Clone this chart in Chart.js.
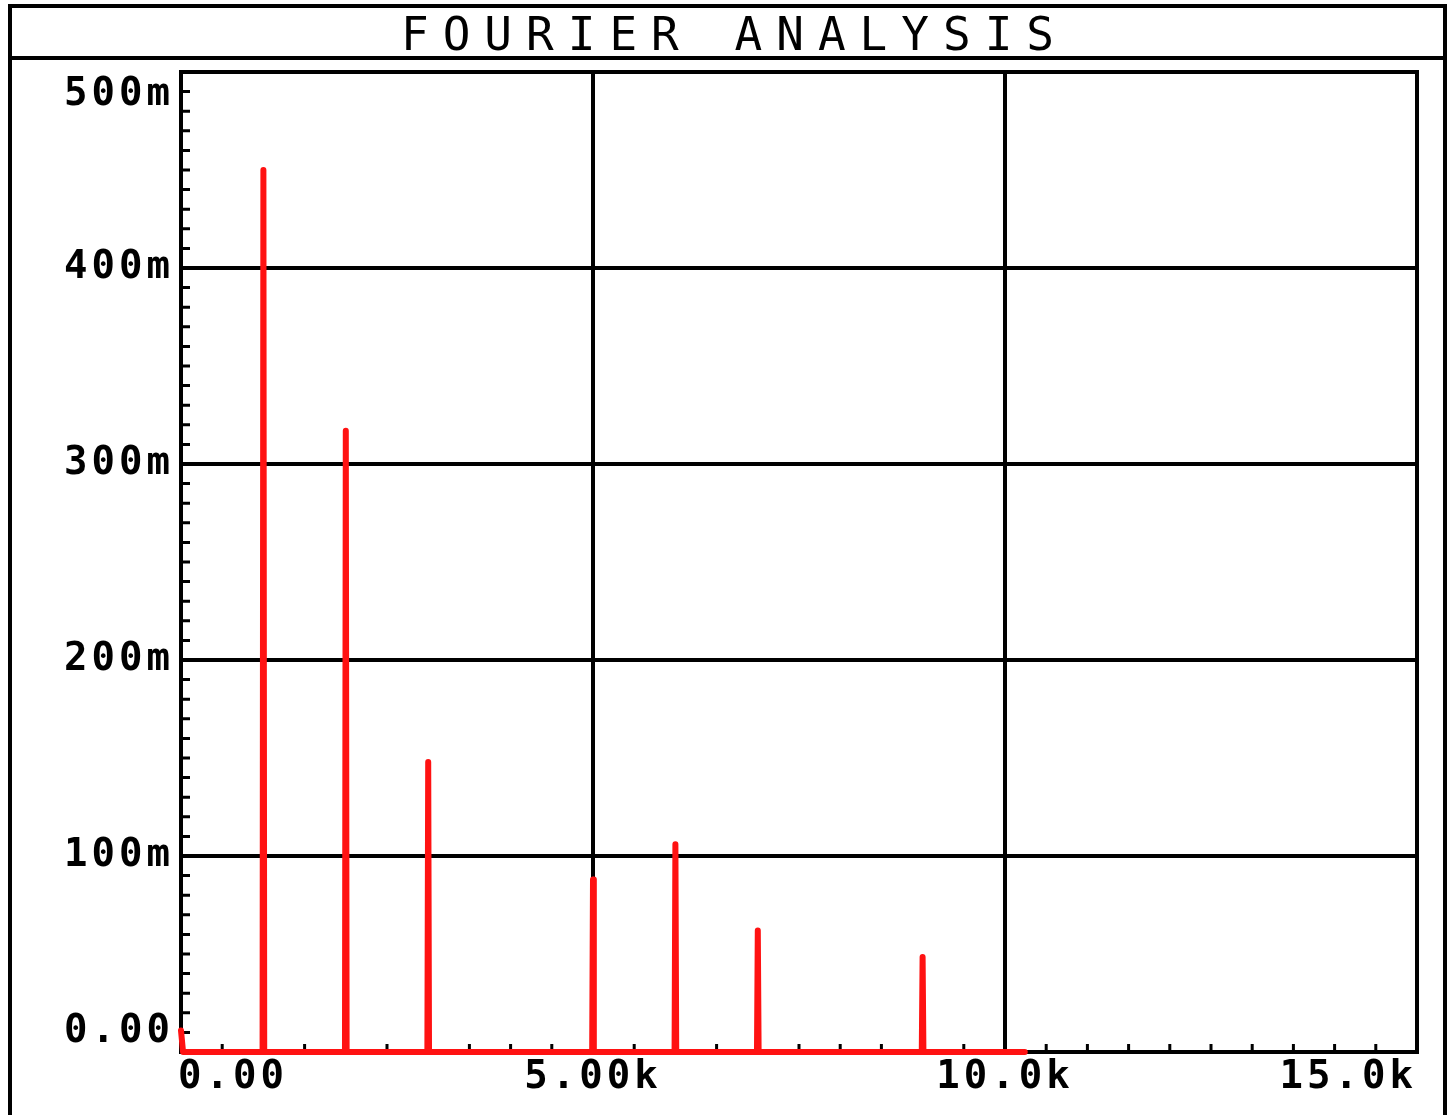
<!DOCTYPE html>
<html>
<head>
<meta charset="utf-8">
<script src="https://cdn.jsdelivr.net/npm/chart.js@4/dist/chart.umd.min.js"></script>
<style>
  html, body { margin: 0; padding: 0; background: #fff; overflow: hidden; }
  #frame {
    position: absolute; left: 8px; top: 4px; width: 1431px; height: 1200px;
    border-left: 4px solid #000; border-right: 4px solid #000; border-top: 4px solid #000;
  }
  #title {
    height: 48px; border-bottom: 4px solid #000;
    font-family: "DejaVu Sans Mono", monospace; font-size: 46px; line-height: 52px;
    letter-spacing: 14px; padding-left: 14px; text-align: center; color: #000;
  }
  #plot { position: absolute; left: 0; top: 0; }
</style>
</head>
<body>
<canvas id="plot" width="1453" height="1115"></canvas>
<div id="frame"><div id="title">FOURIER ANALYSIS</div></div>
<script>
// spectrum (Hz, volts)
const freqHz = [0, 25, 990, 1000, 1010, 1990, 2000, 2010, 2990, 3000, 3010,
                4990, 5000, 5010, 5990, 6000, 6010, 6990, 7000, 7010,
                8990, 9000, 9010, 10240];
const magnitude = [0.011, 0, 0, 0.45, 0, 0, 0.317, 0, 0, 0.148, 0,
                   0, 0.088, 0, 0, 0.106, 0, 0, 0.062, 0,
                   0, 0.0485, 0, 0];

const xTickValues = [0, 5000, 10000, 15000];
const xTickLabels = ['0.00', '5.00k', '10.0k', '15.0k'];
const yTickValues = [0, 0.1, 0.2, 0.3, 0.4, 0.5];
const yTickLabels = ['0.00', '100m', '200m', '300m', '400m', '500m'];

function isMajor(v, step, min, max) {
    const r = v / step;
    return Math.abs(r - Math.round(r)) < 1e-6 && v > min + 1e-9 && v < max - 1e-9;
}

// frame, inner tick marks and the tick labels
const axisDeco = {
    id: 'axisDeco',
    beforeDatasetsDraw(chart) {
        const c = chart.ctx;
        const a = chart.chartArea;
        const xs = chart.scales.x, ys = chart.scales.y;
        c.save();
        c.strokeStyle = '#000';
        c.lineWidth = 4;
        c.strokeRect(a.left, a.top, a.right - a.left, a.bottom - a.top);

        c.lineWidth = 3;
        c.beginPath();
        ys.ticks.forEach(t => {
            const y = ys.getPixelForValue(t.value);
            c.moveTo(a.left, y);
            c.lineTo(a.left + 9, y);
        });
        xs.ticks.forEach(t => {
            const x = xs.getPixelForValue(t.value);
            c.moveTo(x, a.bottom);
            c.lineTo(x, a.bottom - 8);
        });
        c.stroke();

        c.fillStyle = '#000';
        c.font = 'bold 39px "DejaVu Sans Mono"';
        c.letterSpacing = '4px';
        c.textBaseline = 'middle';
        c.textAlign = 'right';
        yTickValues.forEach((v, i) => {
            let y = ys.getPixelForValue(v);
            if (i === 0) y -= 20;
            if (i === yTickValues.length - 1) y += 23;
            c.fillText(yTickLabels[i], a.left - 7, y);
        });
        xTickValues.forEach((v, i) => {
            const x = xs.getPixelForValue(v);
            const y = a.bottom + 26;
            if (i === 0) { c.textAlign = 'left'; c.fillText(xTickLabels[i], x - 3, y); }
            else if (i === xTickValues.length - 1) { c.textAlign = 'right'; c.fillText(xTickLabels[i], x, y); }
            else { c.textAlign = 'center'; c.fillText(xTickLabels[i], x, y); }
        });
        c.restore();
    }
};

const ctx = document.getElementById('plot').getContext('2d');
const chart = new Chart(ctx, {
    type: 'line',
    data: {
        datasets: [{
            data: freqHz.map((f, i) => ({ x: f, y: magnitude[i] })),
            borderColor: '#ff1212',
            borderWidth: 6,
            borderJoinStyle: 'round',
            borderCapStyle: 'round',
            pointRadius: 0,
            tension: 0,
            clip: false
        }]
    },
    options: {
        responsive: false,
        animation: false,
        layout: { padding: { left: 181, right: 36, top: 72, bottom: 63 } },
        plugins: { legend: { display: false }, tooltip: { enabled: false } },
        scales: {
            x: {
                type: 'linear', min: 0, max: 15000,
                ticks: { display: false, stepSize: 500 },
                border: { display: false },
                grid: {
                    drawTicks: false, lineWidth: 4,
                    color: c => isMajor(c.tick.value, 5000, 0, 15000) ? '#000' : 'rgba(0,0,0,0)'
                }
            },
            y: {
                min: 0, max: 0.5,
                ticks: { display: false, stepSize: 0.01 },
                border: { display: false },
                grid: {
                    drawTicks: false, lineWidth: 4,
                    color: c => isMajor(c.tick.value, 0.1, 0, 0.5) ? '#000' : 'rgba(0,0,0,0)'
                }
            }
        }
    },
    plugins: [axisDeco]
});
</script>
</body>
</html>
